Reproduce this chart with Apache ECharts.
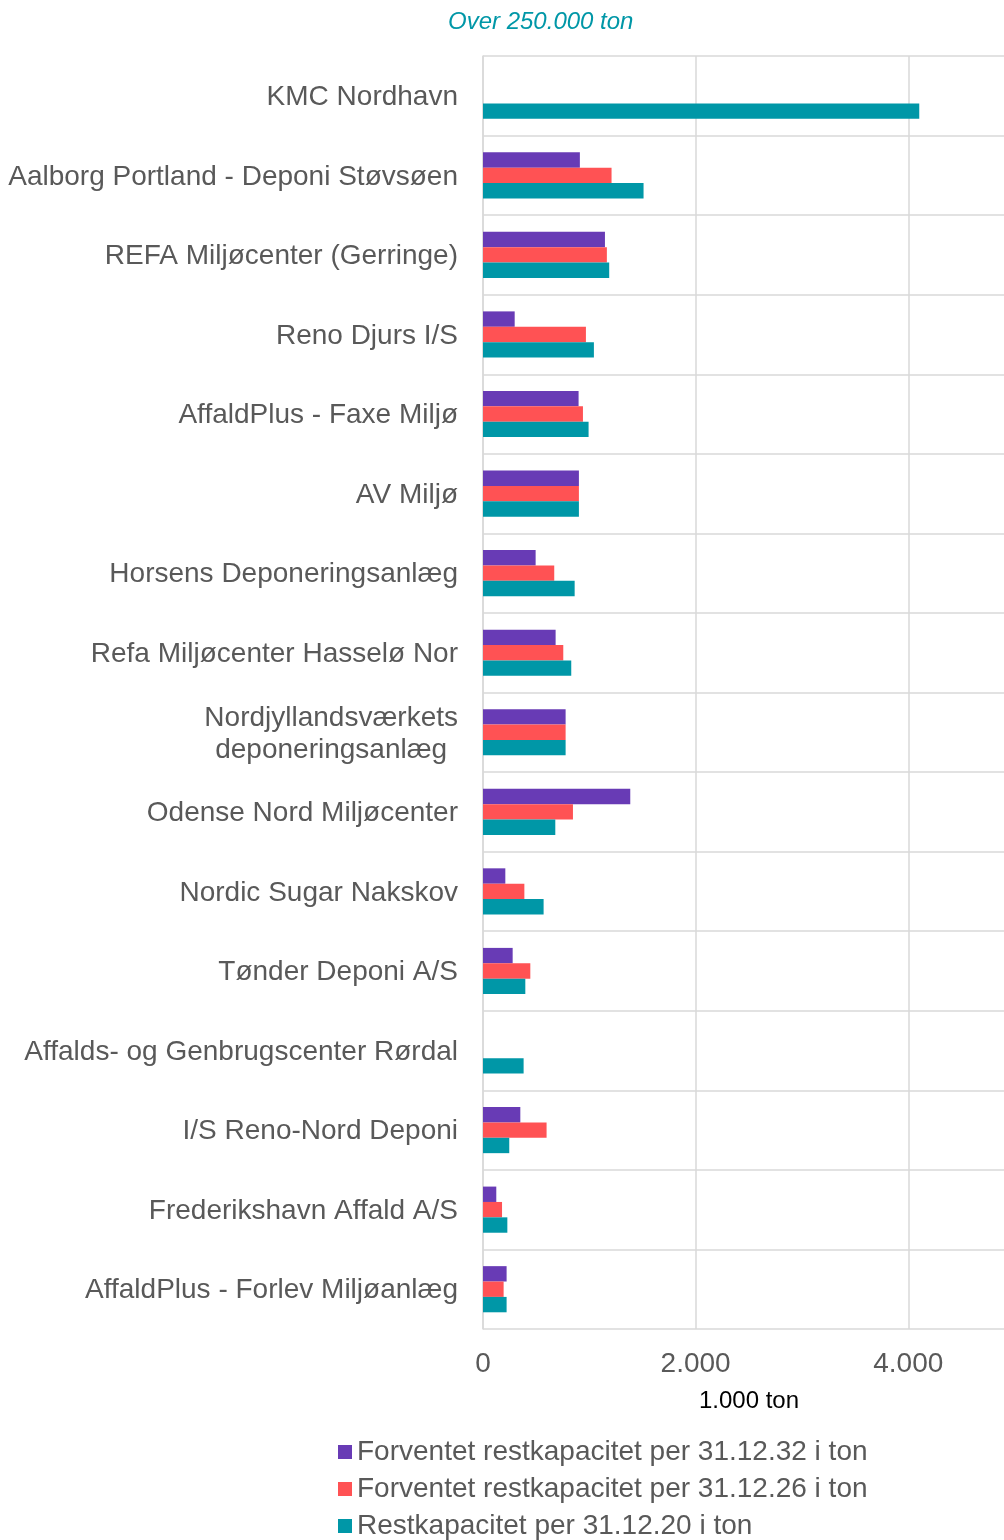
<!DOCTYPE html>
<html><head><meta charset="utf-8">
<script src="https://cdn.jsdelivr.net/npm/echarts@6/dist/echarts.min.js"></script>
<style>html,body{margin:0;padding:0;background:#fff}#c{width:1004px;height:1540px}</style>
</head><body><div id="c"></div>
<script>
// Values in 1.000 ton
const categories = [
  'KMC Nordhavn',
  'Aalborg Portland - Deponi Støvsøen',
  'REFA Miljøcenter (Gerringe)',
  'Reno Djurs I/S',
  'AffaldPlus - Faxe Miljø',
  'AV Miljø',
  'Horsens Deponeringsanlæg',
  'Refa Miljøcenter Hasselø Nor',
  'Nordjyllandsværkets\ndeponeringsanlæg',
  'Odense Nord Miljøcenter',
  'Nordic Sugar Nakskov',
  'Tønder Deponi A/S',
  'Affalds- og Genbrugscenter Rørdal',
  'I/S Reno-Nord Deponi',
  'Frederikshavn Affald A/S',
  'AffaldPlus - Forlev Miljøanlæg'
];
const forventet2032 = [null, 911, 1147, 298, 899, 902, 495, 683, 777, 1385, 210, 279, null, 351, 125, 222];
const forventet2026 = [null, 1209, 1165, 968, 940, 902, 670, 755, 777, 846, 389, 445, null, 598, 179, 194];
const restkapacitet2020 = [4103, 1510, 1187, 1043, 993, 902, 862, 830, 777, 680, 570, 398, 382, 247, 229, 222];
const seriesNames = [
  'Forventet restkapacitet per 31.12.32 i ton',
  'Forventet restkapacitet per 31.12.26 i ton',
  'Restkapacitet per 31.12.20 i ton'
];
const xTickLabels = [0, 2000, 4000];
const titleText = 'Over 250.000 ton';
const xAxisName = '1.000 ton';

const FONT = '"Liberation Sans", Arial, sans-serif';
const colors = ['#683bb5', '#ff5254', '#0097a7'];
const gridColor = '#d9d9d9';
const fmt = v => String(v).replace(/\B(?=(\d{3})+(?!\d))/g, '.');

const chart = echarts.init(document.getElementById('c'), null, {renderer: 'canvas'});
const seriesData = [forventet2032, forventet2026, restkapacitet2020];
chart.setOption({
  animation: false,
  backgroundColor: '#fff',
  color: colors,
  title: {
    text: titleText, left: 443, top: 5,
    textStyle: {fontFamily: FONT, fontSize: 24, fontStyle: 'italic', fontWeight: 'normal', color: '#0097a7'}
  },
  legend: {
    orient: 'vertical', left: 338, top: 1438, padding: 0, height: 102,
    icon: 'rect', itemWidth: 14, itemHeight: 14, itemGap: 9,
    selectedMode: false,
    textStyle: {fontFamily: FONT, fontSize: 28, color: '#595959', lineHeight: 28},
    data: seriesNames
  },
  grid: {left: 483, right: 0, top: 56, bottom: 211, containLabel: false},
  xAxis: {
    type: 'value', min: 0, max: 4900, interval: 2000,
    name: xAxisName, nameLocation: 'middle', nameGap: 60,
    nameTextStyle: {fontFamily: FONT, fontSize: 24, color: '#000', padding: [0, 0, 0, 11]},
    axisLine: {show: false}, axisTick: {show: false},
    axisLabel: {
      fontFamily: FONT, fontSize: 28, color: '#595959', margin: 21,
      showMaxLabel: false,
      formatter: v => xTickLabels.includes(v) ? fmt(v) : ''
    },
    splitLine: {show: true, showMaxLine: false, lineStyle: {color: gridColor, width: 1.5}}
  },
  yAxis: {
    type: 'category', inverse: true, data: categories,
    axisLine: {show: true, lineStyle: {color: gridColor, width: 1.5}},
    axisTick: {show: false},
    splitLine: {show: true, lineStyle: {color: gridColor, width: 1.5}},
    axisLabel: {
      fontFamily: FONT, fontSize: 28, color: '#595959', margin: 25, lineHeight: 32, padding: [3, 0, 0, 0],
      formatter: v => v.indexOf('\n') >= 0 ? v.split('\n').map(s => '{c|' + s + '}').join('\n') : v,
      rich: {c: {fontFamily: FONT, fontSize: 28, color: '#595959', lineHeight: 32, align: 'center'}}
    }
  },
  series: seriesNames.map((n, i) => ({
    name: n, type: 'bar', data: seriesData[i],
    barGap: '0%', barCategoryGap: '42%',
    itemStyle: {color: colors[i]}
  }))
});
</script></body></html>
